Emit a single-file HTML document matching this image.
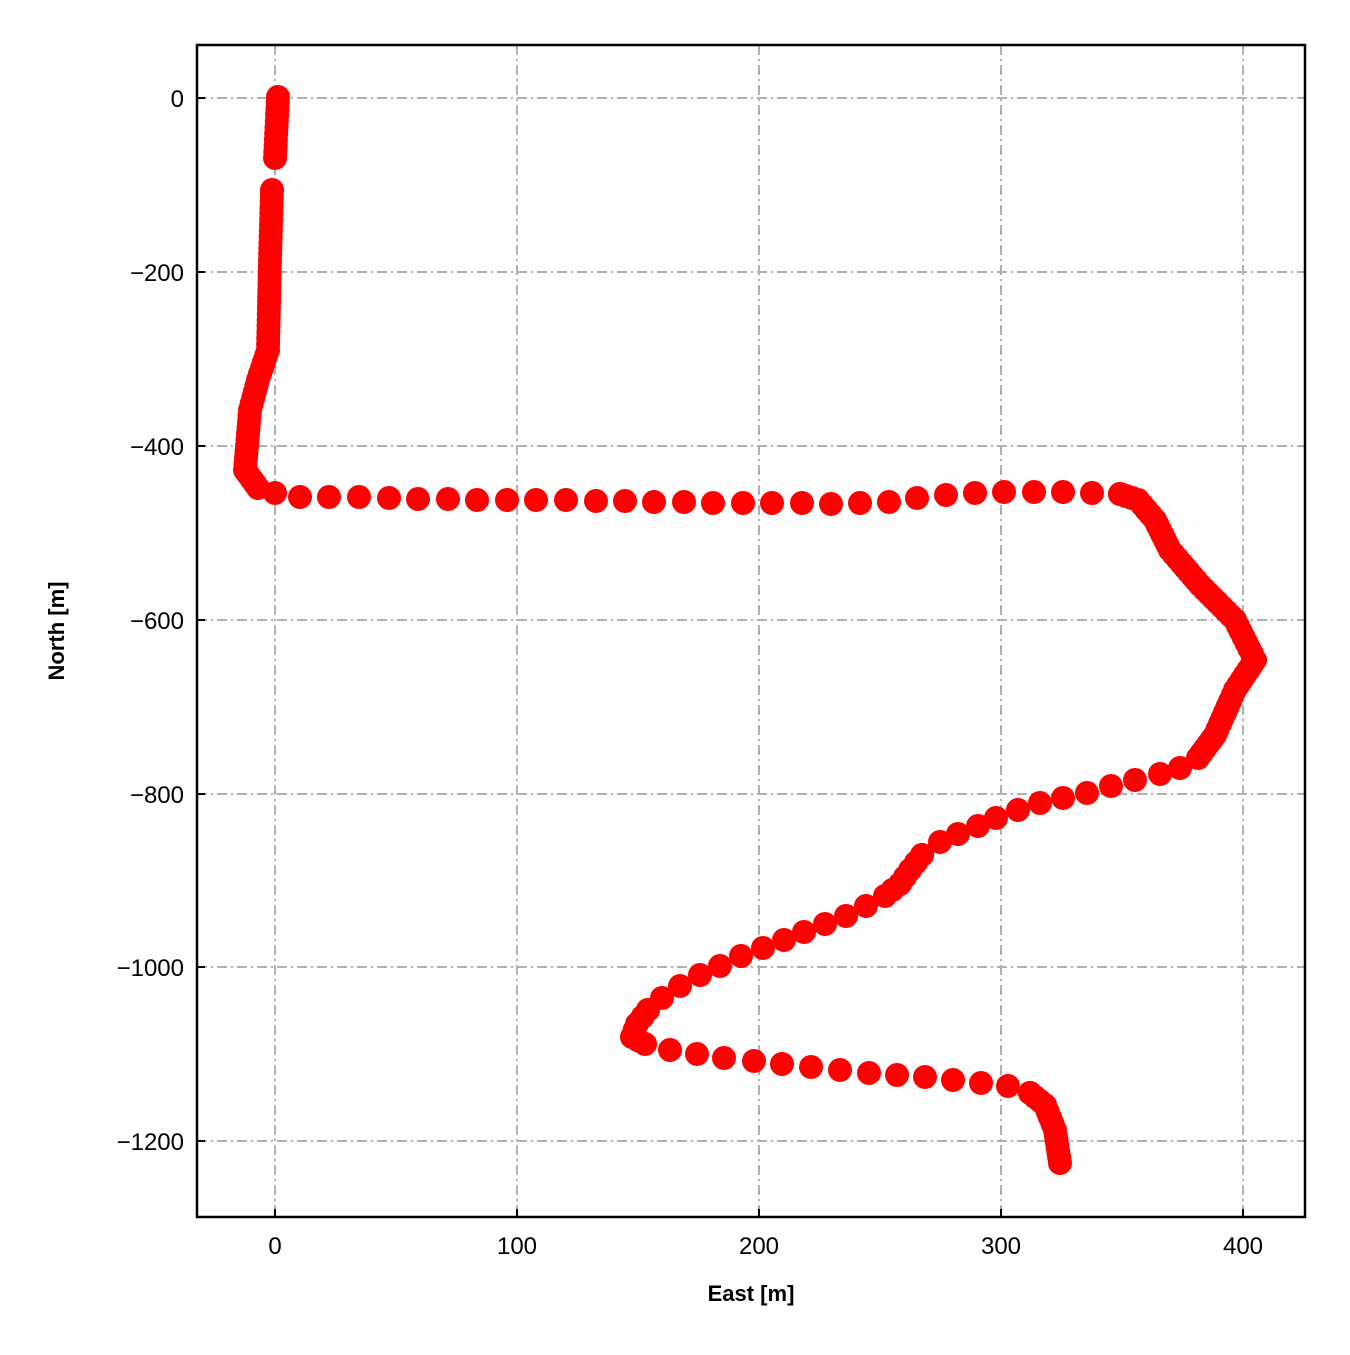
<!DOCTYPE html>
<html><head><meta charset="utf-8"><style>
html,body{margin:0;padding:0;background:#fff;}
text{font-family:"Liberation Sans",Arial,sans-serif;}
</style></head><body>
<svg id="s" width="1350" height="1350" viewBox="0 0 1350 1350" xmlns="http://www.w3.org/2000/svg">
<rect width="1350" height="1350" fill="#fff"/>
<g stroke="#b0b0b0" stroke-width="2" stroke-dasharray="10,4,2,4" fill="none">
<line x1="275" y1="45" x2="275" y2="1217"/>
<line x1="517" y1="45" x2="517" y2="1217"/>
<line x1="759" y1="45" x2="759" y2="1217"/>
<line x1="1001" y1="45" x2="1001" y2="1217"/>
<line x1="1243" y1="45" x2="1243" y2="1217"/>
<line x1="197" y1="98" x2="1305" y2="98"/>
<line x1="197" y1="272" x2="1305" y2="272"/>
<line x1="197" y1="446" x2="1305" y2="446"/>
<line x1="197" y1="620" x2="1305" y2="620"/>
<line x1="197" y1="794" x2="1305" y2="794"/>
<line x1="197" y1="967" x2="1305" y2="967"/>
<line x1="197" y1="1141" x2="1305" y2="1141"/>
</g>
<g id="pts" fill="#ff0000"></g>
<rect x="197" y="45" width="1108" height="1172" fill="none" stroke="#000" stroke-width="2.5"/>
<g stroke="#000" stroke-width="2">
<line x1="275" y1="1217" x2="275" y2="1209"/><line x1="517" y1="1217" x2="517" y2="1209"/><line x1="759" y1="1217" x2="759" y2="1209"/><line x1="1001" y1="1217" x2="1001" y2="1209"/><line x1="1243" y1="1217" x2="1243" y2="1209"/>
<line x1="197" y1="98" x2="205" y2="98"/><line x1="197" y1="272" x2="205" y2="272"/><line x1="197" y1="446" x2="205" y2="446"/><line x1="197" y1="620" x2="205" y2="620"/><line x1="197" y1="794" x2="205" y2="794"/><line x1="197" y1="967" x2="205" y2="967"/><line x1="197" y1="1141" x2="205" y2="1141"/>
</g>
<g font-size="24" fill="#000" text-anchor="middle">
<text x="275" y="1254">0</text><text x="517" y="1254">100</text><text x="759" y="1254">200</text><text x="1001" y="1254">300</text><text x="1243" y="1254">400</text>
</g>
<g font-size="24" fill="#000" text-anchor="end">
<text x="184" y="107">0</text><text x="184" y="281">−200</text><text x="184" y="455">−400</text><text x="184" y="629">−600</text><text x="184" y="803">−800</text><text x="184" y="976">−1000</text><text x="184" y="1150">−1200</text>
</g>
<text x="751" y="1301" font-size="22" font-weight="bold" text-anchor="middle">East [m]</text>
<text x="64" y="631" font-size="22" font-weight="bold" text-anchor="middle" transform="rotate(-90 64 631)">North [m]</text>
</svg>
<script>
var segs=[
[[[278,97],[275,158]],6],
[[[272,190],[270,260],[268,350],[258,380],[250,410],[245,470],[258,488]],6],
[[[275,493],[300,497],[329,497],[359,497],[389,498],[418,499],[448,499],[477,500],[507,500],[536,500],[566,500],[596,501],[625,501],[654,502],[684,502],[713,503],[743,503],[772,503],[802,503],[831,504],[860,503],[889,502],[917,498],[946,495],[975,493],[1004,492],[1034,492],[1063,492],[1092,493],[1120,494]],0],
[[[1120,494],[1138,500],[1155,520],[1170,550],[1200,585],[1235,620],[1255,660],[1235,690],[1215,735],[1198,758]],6],
[[[1180,768],[1160,774],[1135,780],[1111,786],[1087,793],[1063,798],[1040,803],[1018,810],[996,818],[978,826],[958,834],[940,842],[922,855]],0],
[[[922,855],[910,870],[900,884],[885,896]],8],
[[[866,906],[846,916],[825,924],[804,932],[784,940],[763,948],[741,956],[720,966],[700,975],[680,986],[662,998],[648,1010]],0],
[[[648,1010],[637,1024],[632,1037],[645,1044]],8],
[[[670,1050],[697,1054],[724,1058],[754,1061],[782,1064],[811,1067],[840,1070],[869,1073],[897,1075],[925,1077],[953,1080],[981,1083],[1008,1086],[1030,1093]],0],
[[[1030,1093],[1045,1105],[1055,1130],[1060,1163]],6]
];
var g=document.getElementById('pts'),ns='http://www.w3.org/2000/svg';
function dot(x,y){var c=document.createElementNS(ns,'circle');c.setAttribute('cx',x);c.setAttribute('cy',y);c.setAttribute('r',12);g.appendChild(c);}
segs.forEach(function(s){var p=s[0],sp=s[1];
 if(!sp){p.forEach(function(q){dot(q[0],q[1]);});return;}
 dot(p[0][0],p[0][1]);
 for(var i=1;i<p.length;i++){var a=p[i-1],b=p[i],d=Math.hypot(b[0]-a[0],b[1]-a[1]),n=Math.max(1,Math.round(d/sp));
  for(var k=1;k<=n;k++)dot(a[0]+(b[0]-a[0])*k/n,a[1]+(b[1]-a[1])*k/n);}
});
</script>
</body></html>
